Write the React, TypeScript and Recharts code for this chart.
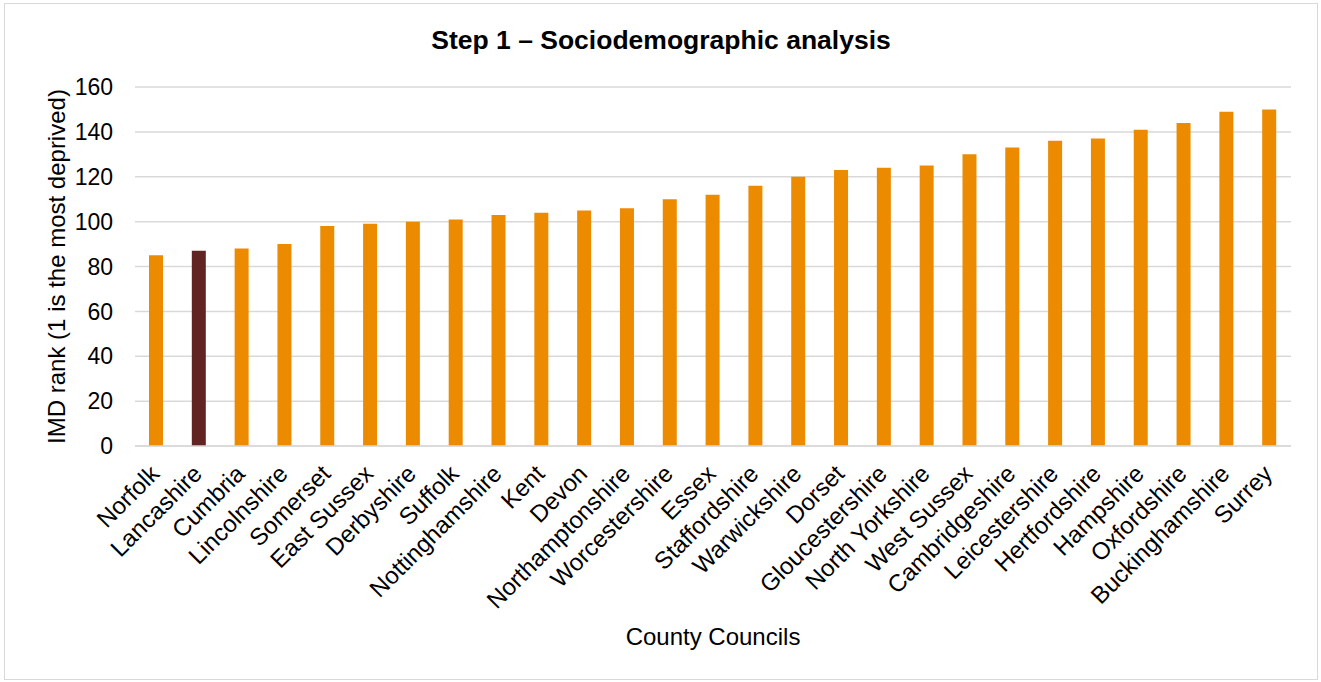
import { BarChart, Bar, Cell, XAxis, YAxis, CartesianGrid, Label } from 'recharts';

const counties = [
  'Norfolk', 'Lancashire', 'Cumbria', 'Lincolnshire', 'Somerset', 'East Sussex',
  'Derbyshire', 'Suffolk', 'Nottinghamshire', 'Kent', 'Devon', 'Northamptonshire',
  'Worcestershire', 'Essex', 'Staffordshire', 'Warwickshire', 'Dorset',
  'Gloucestershire', 'North Yorkshire', 'West Sussex', 'Cambridgeshire',
  'Leicestershire', 'Hertfordshire', 'Hampshire', 'Oxfordshire', 'Buckinghamshire',
  'Surrey',
];
const imdRank = [
  85, 87, 88, 90, 98, 99, 100, 101, 103, 104, 105, 106, 110, 112, 116, 120, 123,
  124, 125, 130, 133, 136, 137, 141, 144, 149, 150,
];
const yTicks = [0, 20, 40, 60, 80, 100, 120, 140, 160];
const highlighted = 'Lancashire';

const data = counties.map((name, i) => ({ name, rank: imdRank[i] }));

const FONT = '"Liberation Sans", Arial, sans-serif';
const ORANGE = '#ed8b00';
const MAROON = '#612423';
const GRID = '#d9d9d9';

const AngledTick = (props: any) => {
  const { x, y, payload } = props;
  return (
    <g transform={`translate(${x - 8},${y + 15})`}>
      <text
        textAnchor="end"
        transform="rotate(-45)"
        dy="0.72em"
        fontSize={24}
        fontFamily={FONT}
        fill="#000"
      >
        {payload.value}
      </text>
    </g>
  );
};

const YTitle = (props: any) => {
  const { viewBox } = props;
  const cy = viewBox.y + viewBox.height / 2;
  return (
    <text
      x={51}
      y={cy}
      transform={`rotate(-90, 51, ${cy})`}
      textAnchor="middle"
      dominantBaseline="central"
      fontSize={24}
      fontFamily={FONT}
      fill="#000"
    >
      IMD rank (1 is the most deprived)
    </text>
  );
};

const XTitle = (props: any) => {
  const { viewBox } = props;
  return (
    <text
      x={viewBox.x + viewBox.width / 2}
      y={641}
      textAnchor="middle"
      fontSize={24}
      fontFamily={FONT}
      fill="#000"
    >
      County Councils
    </text>
  );
};

export default function App() {
  return (
    <div style={{ position: 'relative', width: 1321, height: 682 }}>
      <style>{'body { margin: 0; }'}</style>
      <div
        style={{
          position: 'absolute',
          left: 4,
          top: 3,
          width: 1312,
          height: 675,
          border: `1.5px solid ${GRID}`,
          background: '#fff',
        }}
      >
        <div
          style={{
            position: 'absolute',
            left: 0,
            width: '100%',
            top: 21,
            textAlign: 'center',
            fontFamily: FONT,
            fontWeight: 'bold',
            fontSize: 26.5,
            color: '#000',
          }}
        >
          Step 1 – Sociodemographic analysis
        </div>
        <BarChart
          width={1312}
          height={675}
          data={data}
          margin={{ top: 83, right: 26, left: 0, bottom: 0 }}
          barCategoryGap={0}
        >
          <CartesianGrid vertical={false} stroke={GRID} strokeWidth={1.5} />
          <XAxis
            dataKey="name"
            interval={0}
            height={233}
            tickLine={false}
            tickSize={0}
            axisLine={{ stroke: GRID, strokeWidth: 1.5 }}
            tick={<AngledTick />}
          >
            <Label content={<XTitle />} />
          </XAxis>
          <YAxis
            width={130}
            domain={[0, 160]}
            ticks={yTicks}
            interval={0}
            axisLine={false}
            tickLine={false}
            tickSize={0}
            tickMargin={22}
            tick={{ fontSize: 23, fill: '#000', fontFamily: FONT }}
          >
            <Label content={<YTitle />} />
          </YAxis>
          <Bar dataKey="rank" barSize={14} isAnimationActive={false}>
            {data.map((d) => (
              <Cell key={d.name} fill={d.name === highlighted ? MAROON : ORANGE} />
            ))}
          </Bar>
        </BarChart>
      </div>
    </div>
  );
}
